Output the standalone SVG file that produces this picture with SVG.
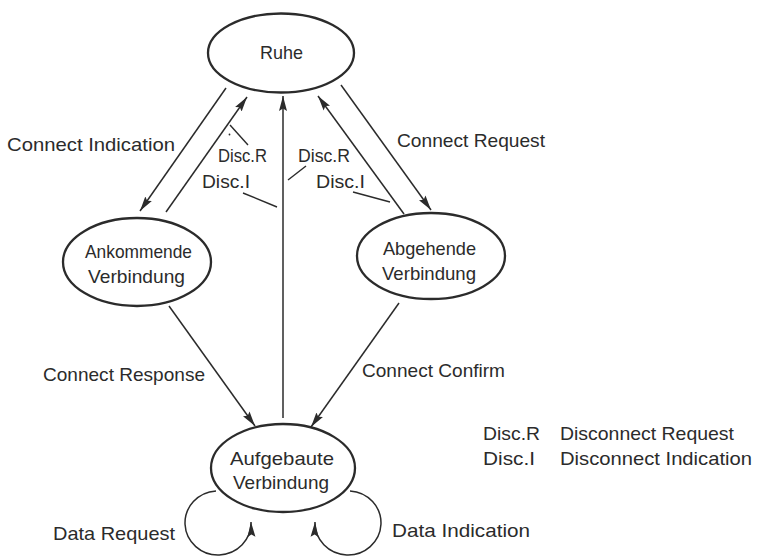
<svg xmlns="http://www.w3.org/2000/svg" width="759" height="556" viewBox="0 0 759 556">
  <style>
    .state { fill: #ffffff; stroke: #2b2b2b; stroke-width: 2.3; }
    .edge { fill: none; stroke: #2b2b2b; stroke-width: 1.5; }
    .lead { fill: none; stroke: #2b2b2b; stroke-width: 1.4; }
    text { font-family: "Liberation Sans", "DejaVu Sans", sans-serif; font-size: 19px; fill: #2b2b2b; }
  </style>
  <defs>
    <marker id="arrow" markerUnits="userSpaceOnUse" markerWidth="16" markerHeight="9" refX="15" refY="4.5" orient="auto">
      <path d="M0,0.5 L15,4.5 L0,8.5 L2.5,4.5 z" fill="#2b2b2b"/>
    </marker>
  </defs>
  <rect width="759" height="556" fill="#ffffff"/>

  <!-- transitions -->
  <g id="connectors">
    <path class="edge" d="M226,88 L140,211" marker-end="url(#arrow)"/>
    <path class="edge" d="M166,212 L247,97" marker-end="url(#arrow)"/>
    <path class="edge" d="M283,418 L283,96" marker-end="url(#arrow)"/>
    <path class="edge" d="M404,214 L318,96" marker-end="url(#arrow)"/>
    <path class="edge" d="M341,85 L431,210" marker-end="url(#arrow)"/>
    <path class="edge" d="M169,306 L255,426" marker-end="url(#arrow)"/>
    <path class="edge" d="M399,303 L311,427" marker-end="url(#arrow)"/>
    <!-- self loops on the established connection -->
    <path class="edge" d="M216,491 A33,32 0 1 0 251,522" marker-end="url(#arrow)"/>
    <path class="edge" d="M350,491 A33,32 0 1 1 315,522" marker-end="url(#arrow)"/>
    <!-- label leaders -->
    <path class="lead" d="M230,125 L248,145"/>
    <circle cx="229.5" cy="134.5" r="0.9" fill="#2b2b2b"/>
    <path class="lead" d="M243,193 L277,207"/>
    <path class="lead" d="M288,180 L306,166"/>
    <path class="lead" d="M353,192 L390,202"/>
  </g>

  <!-- transition labels -->
  <g id="labels">
    <text x="7" y="151" textLength="168" lengthAdjust="spacingAndGlyphs">Connect Indication</text>
    <text x="397" y="147" textLength="148" lengthAdjust="spacingAndGlyphs">Connect Request</text>
    <text x="218" y="162" textLength="49" lengthAdjust="spacingAndGlyphs">Disc.R</text>
    <text x="202" y="188" textLength="48" lengthAdjust="spacingAndGlyphs">Disc.I</text>
    <text x="298" y="162" textLength="52" lengthAdjust="spacingAndGlyphs">Disc.R</text>
    <text x="316" y="188" textLength="49" lengthAdjust="spacingAndGlyphs">Disc.I</text>
    <text x="43" y="381" textLength="162" lengthAdjust="spacingAndGlyphs">Connect Response</text>
    <text x="362" y="377" textLength="143" lengthAdjust="spacingAndGlyphs">Connect Confirm</text>
    <text x="53" y="540" textLength="122" lengthAdjust="spacingAndGlyphs">Data Request</text>
    <text x="392" y="537" textLength="138" lengthAdjust="spacingAndGlyphs">Data Indication</text>
  </g>

  <!-- states -->
  <g id="ruhe">
    <ellipse class="state" cx="281" cy="53" rx="73" ry="39.5"/>
    <text x="260" y="59" textLength="43" lengthAdjust="spacingAndGlyphs">Ruhe</text>
  </g>
  <g id="ankommende">
    <ellipse class="state" cx="137" cy="262" rx="74" ry="44"/>
    <text x="85" y="258" textLength="107" lengthAdjust="spacingAndGlyphs">Ankommende</text>
    <text x="88" y="283" textLength="97" lengthAdjust="spacingAndGlyphs">Verbindung</text>
  </g>
  <g id="abgehende">
    <ellipse class="state" cx="431" cy="256" rx="74" ry="43"/>
    <text x="383" y="255" textLength="93" lengthAdjust="spacingAndGlyphs">Abgehende</text>
    <text x="382" y="280" textLength="94" lengthAdjust="spacingAndGlyphs">Verbindung</text>
  </g>
  <g id="aufgebaute">
    <ellipse class="state" cx="283" cy="468" rx="72" ry="44"/>
    <text x="230" y="465" textLength="104" lengthAdjust="spacingAndGlyphs">Aufgebaute</text>
    <text x="233" y="489" textLength="96" lengthAdjust="spacingAndGlyphs">Verbindung</text>
  </g>

  <!-- abbreviations -->
  <g id="legend">
    <text x="483" y="440" textLength="57" lengthAdjust="spacingAndGlyphs">Disc.R</text>
    <text x="560" y="440" textLength="174" lengthAdjust="spacingAndGlyphs">Disconnect Request</text>
    <text x="483" y="465" textLength="52" lengthAdjust="spacingAndGlyphs">Disc.I</text>
    <text x="560" y="465" textLength="192" lengthAdjust="spacingAndGlyphs">Disconnect Indication</text>
  </g>
</svg>
